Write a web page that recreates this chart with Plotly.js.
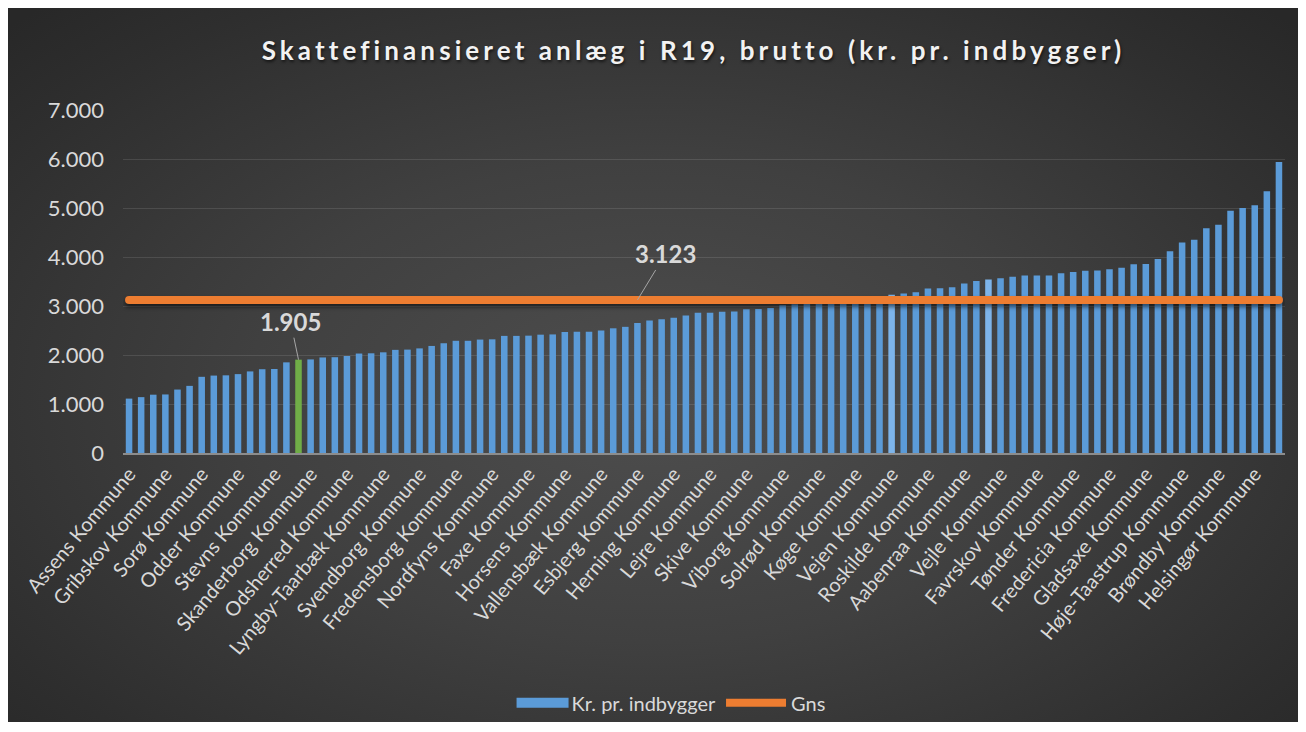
<!DOCTYPE html>
<html>
<head>
<meta charset="utf-8">
<script src="https://cdn.plot.ly/plotly-3.0.1.min.js"></script>
<style>
  html, body { margin: 0; padding: 0; background: #ffffff; width: 1306px; height: 732px; overflow: hidden; }
  #frame { position: absolute; left: 8px; top: 8px; width: 1290px; height: 714px;
    background: radial-gradient(ellipse 70% 75% at 50% 55%, #4e4e4e 0%, #404040 45%, #2e2e2e 85%, #282828 100%); }
  #chart { position: absolute; left: 0; top: 0; width: 1306px; height: 732px; }
  .gtitle { letter-spacing: 4.1px; text-shadow: 1px 2px 3px rgba(0,0,0,0.6); }
  .scatterlayer .js-line { stroke-linecap: round; filter: drop-shadow(0px 3px 2px rgba(0,0,0,0.55)); }
</style>
</head>
<body>
<div id="frame"></div>
<div id="chart"></div>
<script>
// Labelled municipalities (every third bar carries a label)
const categories = [
  "Assens Kommune", "Gribskov Kommune", "Sorø Kommune", "Odder Kommune", "Stevns Kommune",
  "Skanderborg Kommune", "Odsherred Kommune", "Lyngby-Taarbæk Kommune", "Svendborg Kommune",
  "Fredensborg Kommune", "Nordfyns Kommune", "Faxe Kommune", "Horsens Kommune",
  "Vallensbæk Kommune", "Esbjerg Kommune", "Herning Kommune", "Lejre Kommune", "Skive Kommune",
  "Viborg Kommune", "Solrød Kommune", "Køge Kommune", "Vejen Kommune", "Roskilde Kommune",
  "Aabenraa Kommune", "Vejle Kommune", "Favrskov Kommune", "Tønder Kommune",
  "Fredericia Kommune", "Gladsaxe Kommune", "Høje-Taastrup Kommune", "Brøndby Kommune",
  "Helsingør Kommune"
];
const labelStep = 3;

// Kr. pr. indbygger, one value per municipality (sorted ascending)
const values = [
  1110, 1140, 1190, 1195, 1295, 1370, 1555, 1580, 1585, 1610,
  1665, 1710, 1715, 1850, 1905, 1910, 1950, 1955, 1980, 2030,
  2035, 2055, 2105, 2110, 2135, 2185, 2240, 2290, 2290, 2315,
  2320, 2390, 2390, 2395, 2415, 2420, 2470, 2475, 2475, 2500,
  2545, 2575, 2655, 2705, 2730, 2760, 2805, 2860, 2860, 2885,
  2890, 2935, 2940, 2960, 3015, 3035, 3050, 3070, 3095, 3110,
  3140, 3165, 3195, 3230, 3255, 3280, 3355, 3360, 3385, 3460,
  3510, 3540, 3565, 3595, 3620, 3620, 3625, 3670, 3695, 3720,
  3725, 3750, 3780, 3850, 3855, 3960, 4115, 4295, 4350, 4585,
  4660, 4945, 5000, 5055, 5340, 5940
];
const gns = 3123;            // average
const highlightIndex = 14;   // green bar (1.905)
const lightIndices = [63, 71];
const gnsLabelIndex = 42;    // where the average label's leader line touches

const xIdx = values.map((_, i) => i);
const fmt = v => String(Math.round(v)).replace(/\B(?=(\d{3})+(?!\d))/g, ".");

const barColors = values.map((_, i) =>
  i === highlightIndex ? "#70ad47" : (lightIndices.includes(i) ? "#7db4ea" : "#5b9bd8"));

const font = "Lato, 'Open Sans', sans-serif";
const txtCol = "#d9d9d9";

const traces = [
  {
    type: "bar", name: "Kr. pr. indbygger", x: xIdx, y: values,
    marker: { color: barColors, line: { width: 0 } },
    hoverinfo: "y"
  },
  {
    type: "scatter", mode: "lines", name: "Gns", x: xIdx, y: values.map(() => gns),
    line: { color: "#ed7d31", width: 8 }, hoverinfo: "y"
  }
];

const layout = {
  width: 1306, height: 732,
  paper_bgcolor: "rgba(0,0,0,0)", plot_bgcolor: "rgba(0,0,0,0)",
  margin: { l: 123, r: 21, t: 110, b: 279 },
  separators: ",.",
  bargap: 0.46,
  font: { family: font, color: txtCol },
  title: {
    text: "<b>Skattefinansieret anlæg i R19, brutto (kr. pr. indbygger)</b>",
    font: { family: font, size: 26, color: "#f2f2f2" },
    xref: "container", yref: "container", x: 0.531, xanchor: "center", y: 0.931, yanchor: "middle"
  },
  xaxis: {
    range: [-0.5, values.length - 0.5],
    tickmode: "array",
    tickvals: categories.map((_, i) => i * labelStep),
    ticktext: categories,
    tickangle: -50,
    tickfont: { family: font, size: 20, color: txtCol },
    showgrid: false, zeroline: false,
    showline: true, linecolor: "#8c8c8c", linewidth: 1.5,
    ticks: "", fixedrange: true
  },
  yaxis: {
    range: [0, 7000], dtick: 1000, tickformat: ",d",
    tickfont: { family: font, size: 22, color: txtCol },
    showgrid: true, gridcolor: "rgba(255,255,255,0.11)", gridwidth: 1,
    zeroline: false, showline: false, ticks: "",
    ticklabelstandoff: 18, fixedrange: true
  },
  showlegend: true,
  legend: {
    orientation: "h", xref: "container", yref: "container",
    x: 0.51, xanchor: "center", y: 0.04, yanchor: "middle",
    font: { family: font, size: 20, color: txtCol },
    bgcolor: "rgba(0,0,0,0)", itemwidth: 60, traceorder: "normal"
  },
  annotations: [
    {
      x: highlightIndex, y: values[highlightIndex], xref: "x", yref: "y",
      text: "<b>" + fmt(values[highlightIndex]) + "</b>",
      font: { family: font, size: 24, color: txtCol },
      showarrow: true, arrowhead: 0, arrowwidth: 1, arrowcolor: "#a6a6a6",
      ax: -8, ay: -38
    },
    {
      x: gnsLabelIndex, y: gns, xref: "x", yref: "y",
      text: "<b>" + fmt(gns) + "</b>",
      font: { family: font, size: 24, color: txtCol },
      showarrow: true, arrowhead: 0, arrowwidth: 1, arrowcolor: "#a6a6a6",
      ax: 28, ay: -46
    }
  ]
};

Plotly.newPlot("chart", traces, layout, { displayModeBar: false, staticPlot: true }).then(gd => {
  // widen legend symbols to resemble the original legend swatches
  const items = gd.querySelectorAll(".legend .traces");
  items.forEach((g, k) => {
    g.querySelectorAll("path").forEach(p => {
      const d = p.getAttribute("d") || "";
      const parentCls = p.parentNode.getAttribute("class") || "";
      if (k === 0 && parentCls.indexOf("legendpoints") >= 0) {
        p.setAttribute("d", "M-20,5H32V-5H-20Z");
      } else if (k === 1 && /^M5,0h30/.test(d)) {
        p.setAttribute("d", "M4,0h54");
      }
    });
  });
});
</script>
</body>
</html>
